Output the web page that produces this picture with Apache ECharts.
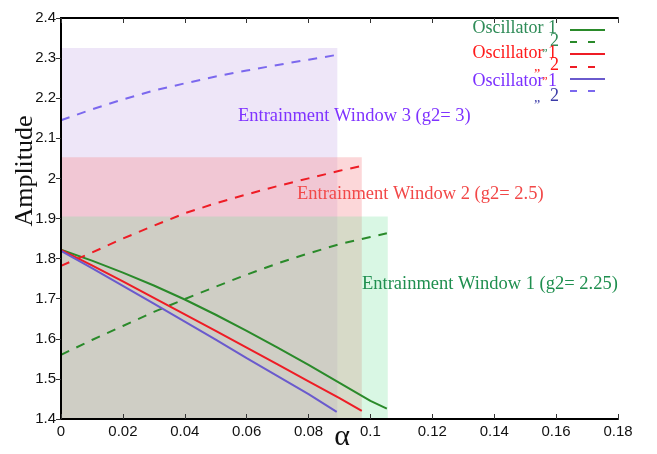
<!DOCTYPE html>
<html>
<head>
<meta charset="utf-8">
<style>
  html, body { margin: 0; padding: 0; background: #fff; }
  #chart { width: 657px; height: 454px; }
</style>
<script src="https://cdn.jsdelivr.net/npm/echarts@6/dist/echarts.min.js"></script>
</head>
<body>
<div id="chart"></div>
<script>
// window 1 (g2 = 2.25), green
const alphaW1 = [0, 0.01, 0.02, 0.03, 0.04, 0.05, 0.06, 0.07, 0.08, 0.09, 0.1, 0.1053];
const w1Osc1 = [1.822, 1.795, 1.765, 1.733, 1.698, 1.660, 1.620, 1.578, 1.535, 1.490, 1.445, 1.426];
const w1Osc2 = [1.560, 1.597, 1.632, 1.667, 1.699, 1.730, 1.760, 1.788, 1.813, 1.836, 1.854, 1.863];
// window 2 (g2 = 2.5), red
const alphaW2 = [0, 0.01, 0.02, 0.03, 0.04, 0.05, 0.06, 0.07, 0.08, 0.09, 0.0972];
const w2Osc1 = [1.822, 1.783, 1.743, 1.702, 1.661, 1.620, 1.578, 1.536, 1.494, 1.452, 1.420];
const w2Osc2 = [1.782, 1.815, 1.850, 1.882, 1.913, 1.938, 1.960, 1.981, 2.000, 2.019, 2.031];
// window 3 (g2 = 3), purple
const alphaW3 = [0, 0.01, 0.02, 0.03, 0.04, 0.05, 0.06, 0.07, 0.08, 0.0891];
const w3Osc1 = [1.819, 1.776, 1.732, 1.688, 1.643, 1.598, 1.552, 1.507, 1.462, 1.418];
const w3Osc2 = [2.145, 2.172, 2.197, 2.219, 2.237, 2.254, 2.269, 2.283, 2.296, 2.308];

// entrainment windows: right edge (alpha) and top (amplitude)
const windowEdge = [0.1056, 0.0972, 0.0893];
const windowTop = [1.905, 2.053, 2.325];
const windowG2 = ['2.25', '2.5', '3'];

const oscLabels = ['Oscillator 1', '2'];

const solidColors = ['#2a8a2a', '#ee1c25', '#6a5acd'];
const dashColors = ['#2a8a2a', '#ee1c25', '#7b68ee'];
const fillColors = ['rgba(119,226,159,0.28)', 'rgba(248,145,150,0.36)', '#eee6f8'];
const labelColors = ['#1f8f4f', '#f24848', '#7f33ff'];
const legendText1 = ['#2e8b57', '#ff1a1a', '#7b2fff'];
const legendText2 = ['#2e8b57', '#ff1a1a', '#3c3ca8'];

const serif = '"Liberation Serif", "DejaVu Serif", serif';
const sans = '"Liberation Sans", Arial, sans-serif';

function pairs(xs, ys) {
  return xs.map((x, i) => [x, ys[i]]);
}

const curves = [
  [alphaW1, w1Osc1, w1Osc2],
  [alphaW2, w2Osc1, w2Osc2],
  [alphaW3, w3Osc1, w3Osc2]
];

const series = [];
// windows first, purple at the bottom
[2, 1, 0].forEach(i => {
  series.push({
    type: 'line',
    data: [],
    silent: true,
    z: 1,
    markArea: {
      silent: true,
      itemStyle: { color: fillColors[i] },
      data: [[{ xAxis: 0, yAxis: 1.4 }, { xAxis: windowEdge[i], yAxis: windowTop[i] }]]
    }
  });
});
curves.forEach((c, i) => {
  series.push({
    type: 'line',
    data: pairs(c[0], c[1]),
    showSymbol: false,
    z: 3,
    lineStyle: { color: solidColors[i], width: 2 }
  });
  series.push({
    type: 'line',
    data: pairs(c[0], c[2]),
    showSymbol: false,
    z: 3,
    lineStyle: { color: dashColors[i], width: 2, type: [9, 8] }
  });
});

// legend drawn by hand (text left of the line samples)
const oscY = [28, 53, 81];
const twoY = [41, 65, 96];
const lineY = [30, 42, 54, 67, 79, 91];
const graphic = [];
for (let i = 0; i < 3; i++) {
  graphic.push({
    type: 'text', x: 557, y: oscY[i], z: 10,
    style: { text: oscLabels[0], fill: legendText1[i], font: '18px ' + serif, align: 'right', verticalAlign: 'middle' }
  });
  graphic.push({
    type: 'text', x: 559, y: twoY[i], z: 10,
    style: { text: oscLabels[1], fill: legendText2[i], font: '18px ' + serif, align: 'right', verticalAlign: 'middle' }
  });
  if (i > 0) {
    graphic.push({
      type: 'text', x: 537, y: twoY[i] + 2, z: 10,
      style: { text: '\u201E', fill: legendText2[i], font: '14px ' + serif, align: 'center', verticalAlign: 'middle' }
    });
    graphic.push({
      type: 'text', x: 545, y: oscY[i] - 6, z: 10,
      style: { text: '\u201E', fill: legendText2[i - 1], font: '12px ' + serif, align: 'center', verticalAlign: 'middle' }
    });
  }
  graphic.push({
    type: 'line', z: 10,
    shape: { x1: 570, y1: lineY[2 * i], x2: 605, y2: lineY[2 * i] },
    style: { stroke: solidColors[i], lineWidth: 2 }
  });
  graphic.push({
    type: 'line', z: 10,
    shape: { x1: 570, y1: lineY[2 * i + 1], x2: 605, y2: lineY[2 * i + 1] },
    style: { stroke: dashColors[i], lineWidth: 2, lineDash: [7, 11] }
  });
}
// window captions
const capPos = [[362, 284], [297, 194], [238, 116]];
for (let i = 0; i < 3; i++) {
  graphic.push({
    type: 'text', x: capPos[i][0], y: capPos[i][1], z: 10,
    style: {
      text: 'Entrainment Window ' + (i + 1) + ' (g2= ' + windowG2[i] + ')',
      fill: labelColors[i], font: '18.5px ' + serif, align: 'left', verticalAlign: 'middle'
    }
  });
}
// axis titles
graphic.push({
  type: 'text', x: 25, y: 171, rotation: Math.PI / 2, z: 10,
  style: { text: 'Amplitude', fill: '#111', font: '26px ' + serif, align: 'center', verticalAlign: 'middle' }
});
graphic.push({
  type: 'text', x: 342, y: 437, z: 10,
  style: { text: 'α', fill: '#111', font: '30px ' + serif, align: 'center', verticalAlign: 'middle' }
});

const axisLine = { show: true, lineStyle: { color: '#000', width: 2 } };
const tick = { show: true, inside: true, length: 5, lineStyle: { color: '#333' } };

const chart = echarts.init(document.getElementById('chart'), null, { renderer: 'canvas' });
chart.setOption({
  animation: false,
  backgroundColor: '#fff',
  grid: { left: 61, right: 39, top: 18, bottom: 35, outerBoundsMode: 'none', containLabel: false },
  xAxis: [{
    type: 'value', min: 0, max: 0.18, interval: 0.02, z: 5,
    axisLine: axisLine, axisTick: tick, splitLine: { show: false },
    axisLabel: { color: '#111', fontFamily: sans, fontSize: 15, margin: 5,
      formatter: v => String(+v.toFixed(2)) }
  }, {
    type: 'value', position: 'top', min: 0, max: 0.18, interval: 0.02, z: 5,
    axisLine: axisLine, axisTick: tick, axisLabel: { show: false }, splitLine: { show: false }
  }],
  yAxis: [{
    type: 'value', min: 1.4, max: 2.4, interval: 0.1, z: 5,
    axisLine: axisLine, axisTick: { show: false }, splitLine: { show: false },
    axisLabel: { color: '#111', fontFamily: sans, fontSize: 15, margin: 5,
      formatter: v => String(+v.toFixed(1)) }
  }, {
    type: 'value', position: 'right', min: 1.4, max: 2.4, interval: 0.1, z: 5,
    axisLine: axisLine, axisTick: tick, axisLabel: { show: false }, splitLine: { show: false }
  }],
  series: series,
  graphic: graphic
});
</script>
</body>
</html>
